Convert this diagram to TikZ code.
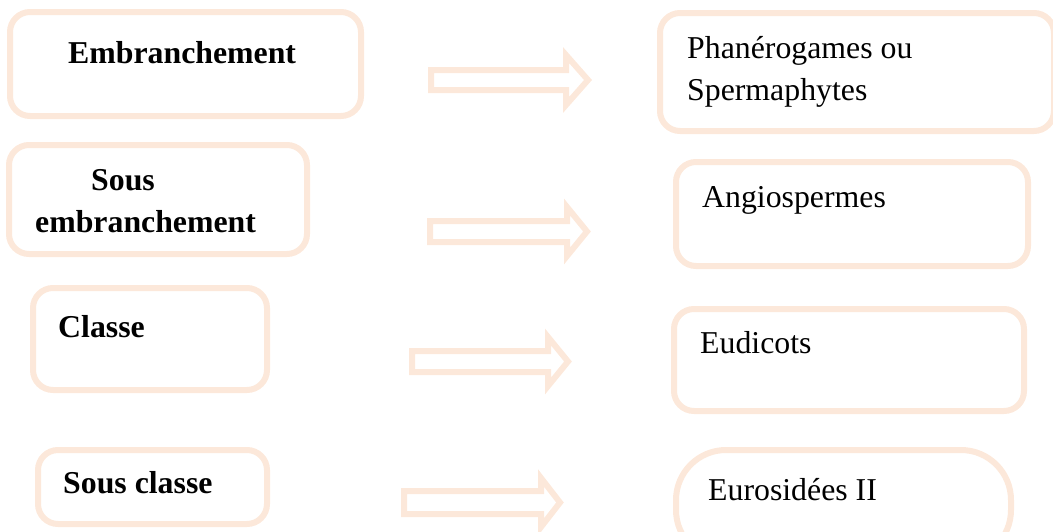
\documentclass[tikz,border=0pt]{standalone}
\usepackage{fontspec}
\setmainfont{Liberation Serif}
\definecolor{peach}{RGB}{252,232,218}
\newcommand\blkarrow[6]{%
  \draw[arr] (#1,#4-#5) -- (#2,#4-#5) -- (#2,#4-#6) -- (#3,#4) -- (#2,#4+#6) -- (#2,#4+#5) -- (#1,#4+#5) -- cycle;}
\begin{document}
\begin{tikzpicture}[x=1pt,y=-1pt,
  box/.style={draw=peach,line width=6pt,rounded corners=20pt,inner sep=0pt,fill=white},
  arr/.style={draw=peach,line width=6pt,line join=miter},
  lbl/.style={anchor=base west,inner sep=0pt,font=\fontsize{31.8}{40}\selectfont},
  blbl/.style={lbl,font=\fontsize{31.8}{40}\selectfont\bfseries}]
\useasboundingbox (0,0) rectangle (1053,531);
\clip (0,0) rectangle (1053,531);
% left boxes
\node[box,minimum width=351pt,minimum height=104pt] (bA) at (185.5,64) {};
\node[box,minimum width=298pt,minimum height=109pt] (bC) at (158,199.5) {};
\node[box,minimum width=234pt,minimum height=102pt] (bE) at (150,339) {};
\node[box,minimum width=229pt,minimum height=74pt] (bG) at (152.5,487) {};
% right boxes
\node[box,minimum width=394pt,minimum height=118pt] (bB) at (857,72) {};
\node[box,minimum width=352pt,minimum height=104pt] (bD) at (852,214) {};
\node[box,minimum width=350pt,minimum height=102pt] (bF) at (849,360) {};
\node[box,rounded corners=50pt,minimum width=335pt,minimum height=110pt] (bH) at (843.5,505) {};
% arrows
\blkarrow{431}{566}{588}{80}{10}{25}
\blkarrow{430}{567}{587}{231.5}{10.5}{24.5}
\blkarrow{412}{548}{568}{361.5}{10.5}{24.5}
\blkarrow{404}{541}{560}{502.5}{11.5}{24.5}
% texts
\node[blbl] (tA) at (68,63) {Embranchement};
\node[blbl] (tC1) at (91,190) {Sous};
\node[blbl] (tC2) at (35,232) {embranchement};
\node[blbl] (tE) at (58,337) {Classe};
\node[blbl] (tG) at (63,493) {Sous classe};
\node[lbl] (tB1) at (687,58) {Phanérogames ou};
\node[lbl] (tB2) at (687,100) {Spermaphytes};
\node[lbl] (tD) at (702,207) {Angiospermes};
\node[lbl] (tF) at (700,353) {Eudicots};
\node[lbl] (tH) at (708,500) {Eurosidées II};
\end{tikzpicture}
\end{document}
